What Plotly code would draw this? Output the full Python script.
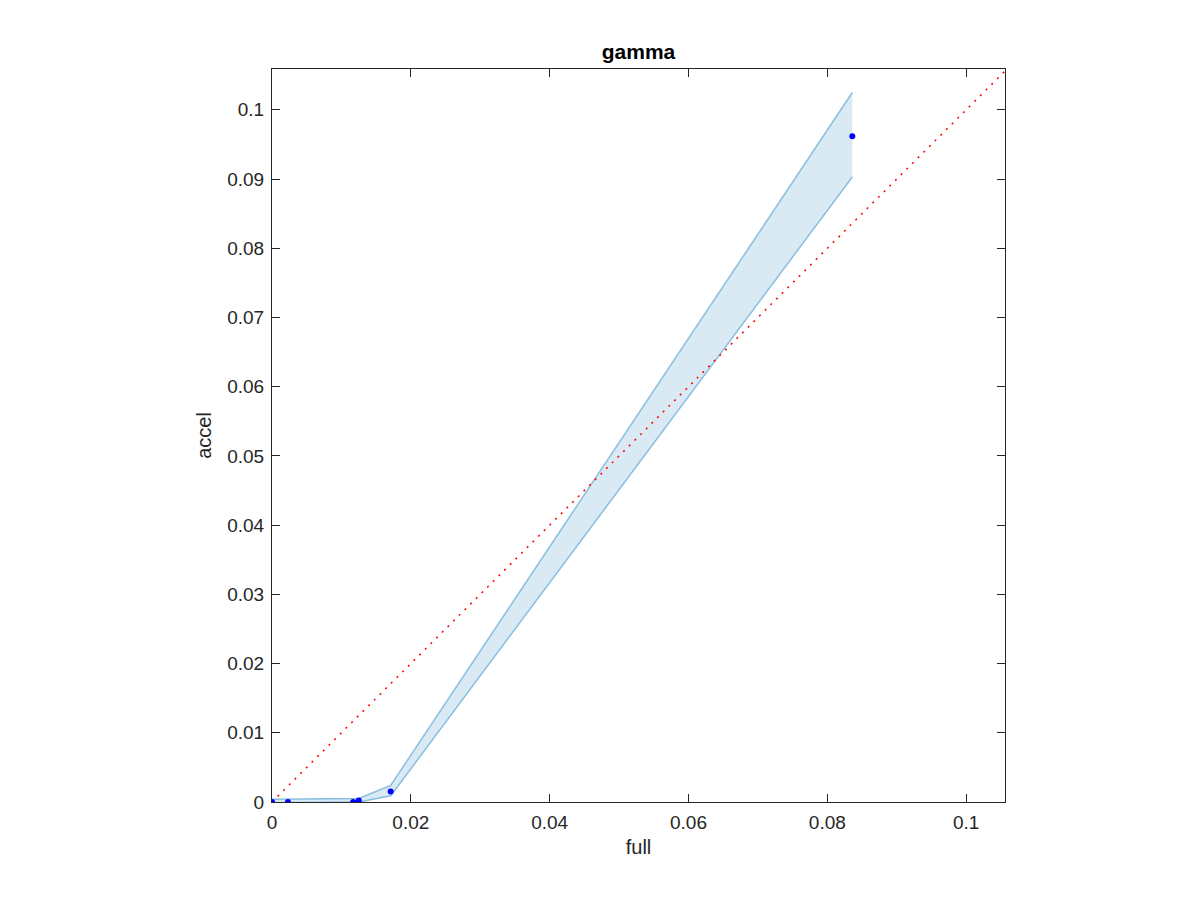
import plotly.graph_objects as go

# data
full = [0.0, 0.0023, 0.0117, 0.0125, 0.0171, 0.0836]
accel = [0.0, 0.0, 0.0, 0.0002, 0.0015, 0.0962]
upper = [0.0004, 0.0004, 0.0004, 0.0005, 0.0024, 0.1025]
lower = [-0.0001, -0.0001, -0.0001, 0.0000, 0.0009, 0.0903]
ref_line = [0.0, 0.106]

band_col = "rgb(137,190,224)"
fill_col = "rgba(137,190,224,0.32)"

fig = go.Figure()
fig.add_trace(go.Scatter(x=full, y=lower, mode="lines", line=dict(color=band_col, width=1.5),
                         showlegend=False, hoverinfo="skip"))
fig.add_trace(go.Scatter(x=full, y=upper, mode="lines", line=dict(color=band_col, width=1.5),
                         fill="tonexty", fillcolor=fill_col, showlegend=False, hoverinfo="skip"))
fig.add_trace(go.Scatter(x=ref_line, y=ref_line, mode="lines",
                         line=dict(color="red", width=1.5, dash="2px,6px"), showlegend=False))
fig.add_trace(go.Scatter(x=full, y=accel, mode="markers",
                         marker=dict(color="blue", size=6), showlegend=False))

fam = "Liberation Sans, Arial, Helvetica, sans-serif"
tick_font = dict(family=fam, size=19, color="#262626")
label_font = dict(family=fam, size=20, color="#262626")
axis_common = dict(showgrid=False, zeroline=False, showline=True, linecolor="#262626", linewidth=1,
                   mirror="ticks", ticks="inside", ticklen=8, tickcolor="#262626",
                   tickfont=tick_font, ticklabelstandoff=3)
fig.update_layout(
    width=1184, height=884,
    margin=dict(l=264, r=187, t=61, b=90),
    plot_bgcolor="white", paper_bgcolor="white",
    title=dict(text="<b>gamma</b>", x=(264 + 733 / 2) / 1184, xanchor="center",
               y=1 - 44 / 884, yanchor="middle",
               font=dict(family=fam, size=21, color="black")),
    xaxis=dict(range=[0, 0.1056], tickvals=[0, 0.02, 0.04, 0.06, 0.08, 0.1],
               ticktext=["0", "0.02", "0.04", "0.06", "0.08", "0.1"],
               title=dict(text="full", font=label_font, standoff=8), **axis_common),
    yaxis=dict(range=[0, 0.1059], tickvals=[i/100 for i in range(11)],
               ticktext=["0"] + ["0.0%d" % i for i in range(1, 10)] + ["0.1"],
               title=dict(text="accel", font=label_font, standoff=10), **axis_common),
)
fig.write_html("out.html")
